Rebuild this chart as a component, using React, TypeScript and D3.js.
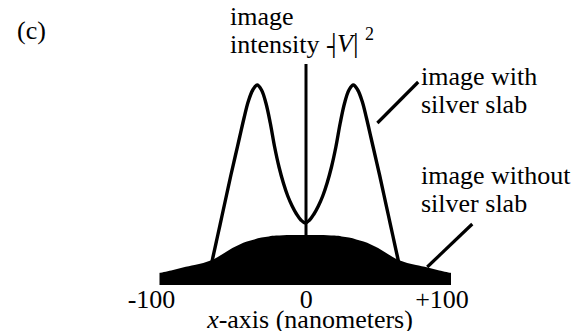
import React from "react";
import * as d3 from "d3";

// Image intensity |V|^2 across the x-axis (nanometers), peak normalised to 1.
const withSlabX = [
  -68, -66, -63, -60, -57, -54, -51, -48, -45, -42, -39, -36, -33, -30, -27, -24, -21, -18, -15, -12, -9, -6, -3, 0,
  3, 6, 9, 12, 15, 18, 21, 24, 27, 30, 33, 36, 39, 42, 45, 48, 51, 54, 57, 60, 63, 66, 68,
];
const withSlabI = [
  0.025, 0.06, 0.15, 0.25, 0.35, 0.45, 0.55, 0.645, 0.74, 0.835, 0.92, 0.975, 1.0, 0.975, 0.91, 0.81, 0.69, 0.59,
  0.51, 0.445, 0.395, 0.355, 0.325, 0.31, 0.325, 0.355, 0.395, 0.445, 0.51, 0.59, 0.69, 0.81, 0.91, 0.975, 1.0,
  0.975, 0.92, 0.835, 0.74, 0.645, 0.55, 0.45, 0.35, 0.25, 0.15, 0.06, 0.025,
];

const withoutSlabX = [
  -100, -92, -84, -76, -70, -65, -60, -55, -50, -45, -40, -35, -30, -25, -20, -10, 0, 10, 20, 25, 30, 35, 40, 45, 50,
  55, 60, 65, 70, 76, 84, 92, 100,
];
const withoutSlabI = [
  0.06, 0.072, 0.088, 0.1, 0.11, 0.122, 0.14, 0.163, 0.185, 0.203, 0.217, 0.228, 0.237, 0.243, 0.247, 0.25, 0.25,
  0.25, 0.247, 0.243, 0.237, 0.228, 0.217, 0.203, 0.185, 0.163, 0.14, 0.122, 0.11, 0.1, 0.088, 0.072, 0.06,
];

const tickValues = [-100, 0, 100];
const tickLabels = ["-100", "0", "+100"];
const tickShift = [-8, 1, -9];

const FONT = "'Liberation Serif', 'Times New Roman', serif";
const FS = 26;

export default function App() {
  const x = d3.scaleLinear().domain([-100, 100]).range([159.5, 451]);
  const y = d3.scaleLinear().domain([0, 1]).range([285, 85]);

  const withPts: [number, number][] = withSlabX.map((v, i) => [v, withSlabI[i]]);
  const withoutPts: [number, number][] = withoutSlabX.map((v, i) => [v, withoutSlabI[i]]);

  const line = d3
    .line<[number, number]>()
    .x((d) => x(d[0]))
    .y((d) => y(d[1]))
    .curve(d3.curveCatmullRom.alpha(0.5));

  const area = d3
    .area<[number, number]>()
    .x((d) => x(d[0]))
    .y0(y(0))
    .y1((d) => y(d[1]))
    .curve(d3.curveCatmullRom.alpha(0.5));

  // leader lines from labels to curves, in data coordinates
  const leaders = [
    { x1: 49.5, y1: 0.81, x2: 77.5, y2: 1.015 },
    { x1: 83.7, y1: 0.09, x2: 114.6, y2: 0.305 },
  ];

  return (
    <svg
      width={574}
      height={331}
      style={{ position: "absolute", left: 0, top: 0, background: "#fff", fontFamily: FONT }}
      fontSize={FS}
    >
      <rect width={574} height={331} fill="#fff" />
      <path d={line(withPts) ?? ""} fill="none" stroke="#000" strokeWidth={3.4} strokeLinejoin="round" />
      <line x1={x(0) + 0.75} x2={x(0) + 0.75} y1={64} y2={y(0.2)} stroke="#000" strokeWidth={3} />
      <path d={area(withoutPts) ?? ""} fill="#000" />
      {leaders.map((l, i) => (
        <line
          key={i}
          x1={x(l.x1)}
          y1={y(l.y1)}
          x2={x(l.x2)}
          y2={y(l.y2)}
          stroke="#000"
          strokeWidth={3.2}
        />
      ))}

      <text x={17} y={38.5}>(c)</text>

      <text x={230} y={25}>image</text>
      <text x={230} y={53}>intensity -</text>
      <text x={331} y={52} fontSize={28}>|</text>
      <text x={337} y={52} fontStyle="italic">V</text>
      <text x={353} y={52} fontSize={28}>|</text>
      <text x={365} y={40} fontSize={18}>2</text>

      <text x={421} y={85}>image with</text>
      <text x={421} y={113}>silver slab</text>
      <text x={421} y={184}>image without</text>
      <text x={421} y={212}>silver slab</text>

      {tickValues.map((v, i) => (
        <text key={v} x={x(v) + tickShift[i]} y={308} textAnchor="middle">
          {tickLabels[i]}
        </text>
      ))}
      <text x={310} y={328} textAnchor="middle">
        <tspan fontStyle="italic">x</tspan>-axis (nanometers)
      </text>
    </svg>
  );
}
